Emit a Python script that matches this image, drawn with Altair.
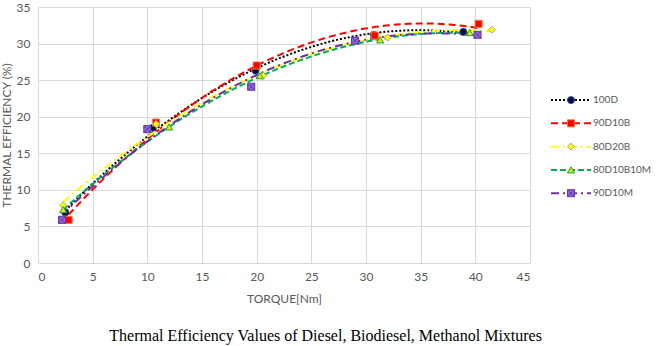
import altair as alt
import pandas as pd

series = ["100D", "90D10B", "80D20B", "80D10B10M", "90D10M"]
torque = {
    "100D":      [2.5, 10.5, 19.9, 30.7, 38.9],
    "90D10B":    [2.8, 10.8, 20.0, 30.8, 40.3],
    "80D20B":    [2.3, 10.8, 20.6, 32.0, 41.5],
    "80D10B10M": [2.3, 12.0, 20.3, 31.3, 39.5],
    "90D10M":    [2.2, 10.0, 19.5, 29.0, 40.2],
}
efficiency = {
    "100D":      [6.9, 18.5, 26.3, 31.2, 31.6],
    "90D10B":    [5.9, 19.2, 27.0, 31.1, 32.7],
    "80D20B":    [7.9, 19.0, 25.6, 30.8, 31.9],
    "80D10B10M": [7.3, 18.6, 25.6, 30.5, 31.5],
    "90D10M":    [5.9, 18.3, 24.1, 30.4, 31.2],
}
x_ticks = [0, 5, 10, 15, 20, 25, 30, 35, 40, 45]
y_ticks = [0, 5, 10, 15, 20, 25, 30, 35]
line_colors = ["#000000", "#FF0000", "#FFFF00", "#00B050", "#7030A0"]
fill_colors = ["#0D0D40", "#FF0000", "#FFFF00", "#FFD700", "#7F6FE0"]
stroke_colors = ["#2F5597", "#ED7D31", "#A5A5A5", "#00B050", "#7030A0"]
dashes = [[2, 2], [7, 4], [8, 4, 2, 4], [6, 3], [8, 4, 2, 4]]
shapes = ["circle", "square", "diamond", "triangle-up",
          "M-1,-1H1V1H-1Z M-1,-1L1,1 M-1,1L1,-1"]

rows = []
for s in series:
    for t, e in zip(torque[s], efficiency[s]):
        rows.append({"series": s, "torque": t, "eff": e})
df = pd.DataFrame(rows)

FONT = "Lato"
GRAY = "#595959"

col = alt.Color("series:N", scale=alt.Scale(domain=series, range=line_colors), legend=None)
dash = alt.StrokeDash("series:N", scale=alt.Scale(domain=series, range=dashes), legend=None)
fill = alt.Fill("series:N", scale=alt.Scale(domain=series, range=fill_colors), legend=None)
stroke = alt.Stroke("series:N", scale=alt.Scale(domain=series, range=stroke_colors), legend=None)
shape = alt.Shape("series:N", scale=alt.Scale(domain=series, range=shapes), legend=None)

xaxis = alt.Axis(values=x_ticks, titlePadding=11, labelOverlap=False, format="d")
yaxis = alt.Axis(values=y_ticks, titlePadding=3, labelOverlap=False, format="d",
                 tickCount=8)
xenc = alt.X("torque:Q", title="TORQUE[Nm]",
             scale=alt.Scale(domain=[0, 45], nice=False), axis=xaxis)
yenc = alt.Y("eff:Q", title="THERMAL EFFICIENCY (%)",
             scale=alt.Scale(domain=[0, 35], nice=False), axis=yaxis)

base = alt.Chart(df)
trend = base.transform_regression(
    "torque", "eff", groupby=["series"], method="poly", order=2
).mark_line(strokeWidth=2).encode(x=xenc, y=yenc, color=col, strokeDash=dash)

pts = base.mark_point(filled=True, size=50, strokeWidth=1, opacity=1).encode(
    x=xenc, y=yenc, fill=fill, stroke=stroke, shape=shape
)

main = alt.layer(trend, pts).properties(width=492, height=256)

leg_df = pd.DataFrame({"series": series, "row": list(range(len(series)))})
legx = alt.X("a:Q", scale=alt.Scale(domain=[0, 1]), axis=None)
legy = alt.Y("row:Q", scale=alt.Scale(domain=[-4, 7], reverse=True), axis=None)
leg_base = alt.Chart(leg_df).transform_calculate(a="0", b="1", m="0.5")
leg_rule = leg_base.mark_rule(strokeWidth=2).encode(
    x=legx, x2="b:Q", y=legy, color=col, strokeDash=dash)
leg_pt = leg_base.mark_point(filled=True, size=50, strokeWidth=1, opacity=1).encode(
    x=alt.X("m:Q", scale=alt.Scale(domain=[0, 1]), axis=None), y=legy,
    fill=fill, stroke=stroke, shape=shape)
leg_txt = leg_base.mark_text(align="left", dx=2, font=FONT, fontSize=10, color=GRAY).encode(
    x=alt.X("b:Q", scale=alt.Scale(domain=[0, 1]), axis=None), y=legy, text="series:N")
legend = alt.layer(leg_rule, leg_pt, leg_txt).properties(width=40, height=256)

chart = alt.hconcat(main, legend, spacing=20).properties(
    title=alt.TitleParams(
        "Thermal Efficiency Values of Diesel, Biodiesel, Methanol Mixtures",
        orient="bottom", anchor="middle", font="Liberation Serif",
        fontSize=16, fontWeight="normal", color="#000000", offset=24),
    padding={"left": 0, "top": 1, "right": 0, "bottom": 2},
    background="#FFFFFF",
).configure_view(stroke=None).configure_axis(
    grid=True, gridColor="#D9D9D9", gridWidth=1, domain=False, ticks=False,
    labelFont=FONT, labelFontSize=12, labelColor=GRAY, labelPadding=8,
    titleFont=FONT, titleFontSize=12, titleColor=GRAY, titleFontWeight="normal",
)

chart.save("out.html", embed_options={"renderer": "svg", "actions": False})
